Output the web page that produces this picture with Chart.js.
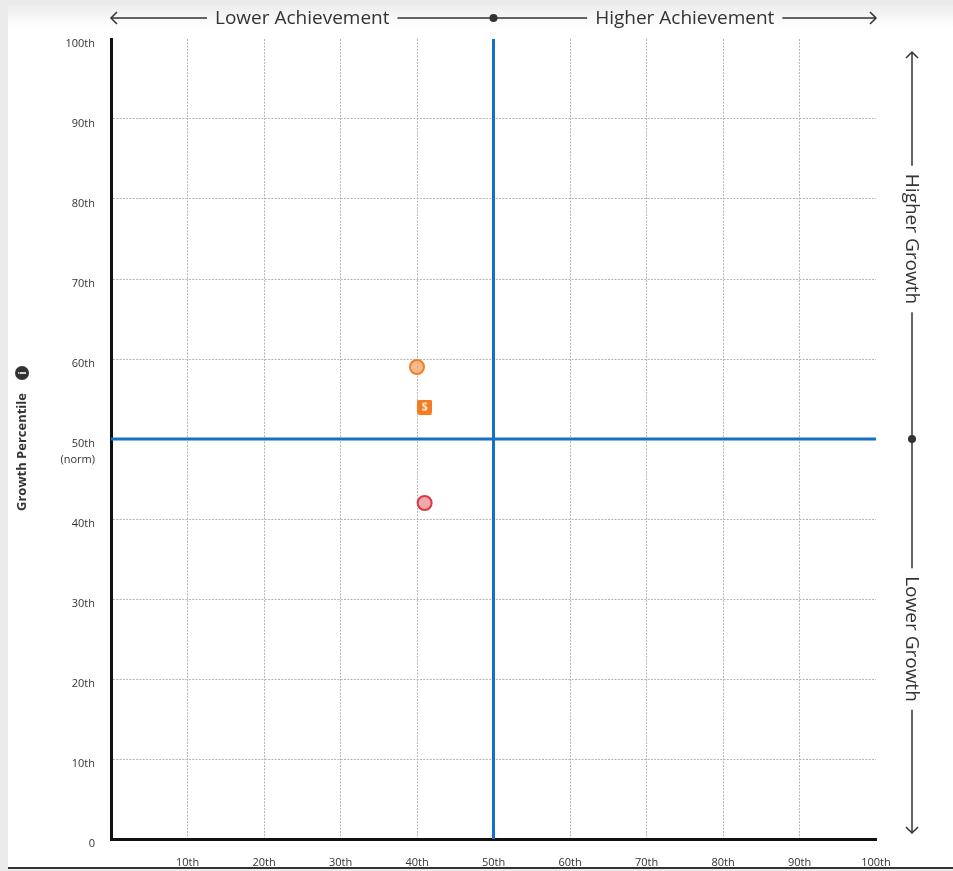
<!DOCTYPE html>
<html>
<head>
<meta charset="utf-8">
<script src="https://cdn.jsdelivr.net/npm/chart.js@4/dist/chart.umd.min.js"></script>
<style>
  html, body { margin: 0; padding: 0; background: #ebebeb; }
  #panel {
    position: absolute; left: 8px; top: 4px; width: 945px; height: 863px;
    background: linear-gradient(to bottom, #ececec 0px, #ffffff 24px);
    border-bottom: 2px solid #333;
  }
  #wrap { position: absolute; left: 0; top: 0; width: 953px; height: 871px; }
</style>
</head>
<body>
<div id="panel"></div>
<div id="wrap"><canvas id="myChart" width="953" height="871"></canvas></div>
<script>
// achievement (x) / growth (y) percentiles
const tickValues = [0, 10, 20, 30, 40, 50, 60, 70, 80, 90, 100]
const tickLabels = ['0', '10th', '20th', '30th', '40th', '50th', '60th', '70th', '80th', '90th', '100th']
const normValue = 50

const circleOrange = [{ x: 40, y: 59 }]
const squareS = [{ x: 41, y: 54 }]
const circleRed = [{ x: 41, y: 42 }]

const FONT = "'Open Sans', 'DejaVu Sans', sans-serif"

// little orange rounded square with an S for the point style
const makeS = () => {
    const c = document.createElement('canvas')
    c.width = 15
    c.height = 15
    const g = c.getContext('2d')
    g.fillStyle = '#f47c20'
    g.beginPath()
    g.roundRect(0, 0, 15, 15, 2)
    g.fill()
    g.fillStyle = '#fff'
    g.font = "bold 11px " + FONT
    g.textAlign = 'center'
    g.textBaseline = 'middle'
    g.fillText('S', 7.5, 8)
    return c
}

const labelFor = (v) => {
    const i = tickValues.indexOf(v)
    return i >= 0 ? tickLabels[i] : ''
}

const gridColor = (c) => {
    if (c.tick && (c.tick.value === 0 || c.tick.value === 100)) return 'rgba(0,0,0,0)'
    return '#b4b4b4'
}

const arrowHead = (ctx, x, y, dir) => {
    // open chevron, dir = 'left' | 'right' | 'up' | 'down'
    const s = 6
    ctx.beginPath()
    if (dir === 'left') { ctx.moveTo(x + s, y - s); ctx.lineTo(x, y); ctx.lineTo(x + s, y + s) }
    if (dir === 'right') { ctx.moveTo(x - s, y - s); ctx.lineTo(x, y); ctx.lineTo(x - s, y + s) }
    if (dir === 'up') { ctx.moveTo(x - s, y + s); ctx.lineTo(x, y); ctx.lineTo(x + s, y + s) }
    if (dir === 'down') { ctx.moveTo(x - s, y - s); ctx.lineTo(x, y); ctx.lineTo(x + s, y - s) }
    ctx.stroke()
}

const quadrantLabels = {
    id: 'quadrantLabels',
    afterDraw(chart) {
        const ctx = chart.ctx
        const xs = chart.scales.x
        const ys = chart.scales.y
        const x0 = xs.getPixelForValue(0)
        const x25 = xs.getPixelForValue(25)
        const x50 = xs.getPixelForValue(normValue)
        const x75 = xs.getPixelForValue(75)
        const x100 = xs.getPixelForValue(100)
        const y0 = ys.getPixelForValue(0)
        const y25 = ys.getPixelForValue(25)
        const y50 = ys.getPixelForValue(normValue)
        const y75 = ys.getPixelForValue(75)
        const y100 = ys.getPixelForValue(100)

        ctx.save()
        ctx.strokeStyle = '#333'
        ctx.fillStyle = '#333'
        ctx.lineWidth = 1.5
        ctx.font = '19px ' + FONT

        // top: achievement arrow
        const ty = 18
        const wl = ctx.measureText('Lower Achievement').width
        const wh = ctx.measureText('Higher Achievement').width
        ctx.beginPath()
        ctx.moveTo(x0, ty); ctx.lineTo(x25 - wl / 2 - 8, ty)
        ctx.moveTo(x25 + wl / 2 + 8, ty); ctx.lineTo(x75 - wh / 2 - 8, ty)
        ctx.moveTo(x75 + wh / 2 + 8, ty); ctx.lineTo(x100, ty)
        ctx.stroke()
        arrowHead(ctx, x0, ty, 'left')
        arrowHead(ctx, x100, ty, 'right')
        ctx.beginPath(); ctx.arc(x50, ty, 4, 0, Math.PI * 2); ctx.fill()
        ctx.textAlign = 'center'
        ctx.textBaseline = 'middle'
        ctx.fillText('Lower Achievement', x25, ty + 1)
        ctx.fillText('Higher Achievement', x75, ty + 1)

        // right: growth arrow
        const rx = 912
        const top = y100 + 13
        const bot = y0 - 6
        const gh = ctx.measureText('Higher Growth').width
        const gl = ctx.measureText('Lower Growth').width
        ctx.beginPath()
        ctx.moveTo(rx, top); ctx.lineTo(rx, y75 - gh / 2 - 8)
        ctx.moveTo(rx, y75 + gh / 2 + 8); ctx.lineTo(rx, y25 - gl / 2 - 8)
        ctx.moveTo(rx, y25 + gl / 2 + 8); ctx.lineTo(rx, bot)
        ctx.stroke()
        arrowHead(ctx, rx, top, 'up')
        arrowHead(ctx, rx, bot, 'down')
        ctx.beginPath(); ctx.arc(rx, y50, 4, 0, Math.PI * 2); ctx.fill()
        ctx.save()
        ctx.translate(rx, y75)
        ctx.rotate(Math.PI / 2)
        ctx.fillText('Higher Growth', 0, 1)
        ctx.restore()
        ctx.save()
        ctx.translate(rx, y25)
        ctx.rotate(Math.PI / 2)
        ctx.fillText('Lower Growth', 0, 1)
        ctx.restore()

        // left: axis title with info icon
        ctx.save()
        ctx.translate(22, y50 + 13)
        ctx.rotate(-Math.PI / 2)
        ctx.font = 'bold 13px ' + FONT
        ctx.fillText('Growth Percentile', 0, 0)
        ctx.restore()
        ctx.beginPath(); ctx.arc(22, y50 - 66, 7, 0, Math.PI * 2); ctx.fill()
        ctx.fillStyle = '#fff'
        ctx.font = 'bold 10px ' + FONT
        ctx.save()
        ctx.translate(22, y50 - 66)
        ctx.rotate(-Math.PI / 2)
        ctx.fillText('i', 0, 1)
        ctx.restore()

        // second line under the 50th tick label
        ctx.fillStyle = '#333'
        ctx.font = '11px ' + FONT
        ctx.textAlign = 'right'
        ctx.fillText('(norm)', chart.chartArea.left - 16, y50 + 21)
        ctx.restore()
    }
}

const ctx = document.getElementById('myChart')
const myChart = new Chart(ctx, {
    type: 'scatter',
    data: {
        datasets: [
            {
                label: 'norm x',
                data: [{ x: normValue, y: 0 }, { x: normValue, y: 100 }],
                showLine: true,
                borderColor: '#1670c6',
                borderWidth: 3,
                pointRadius: 0
            },
            {
                label: 'norm y',
                data: [{ x: 0, y: normValue }, { x: 100, y: normValue }],
                showLine: true,
                borderColor: '#1670c6',
                borderWidth: 3,
                pointRadius: 0
            },
            {
                label: 'orange',
                data: circleOrange,
                pointStyle: 'circle',
                pointRadius: 7,
                borderWidth: 2,
                borderColor: '#f27d22',
                backgroundColor: 'rgba(245, 150, 85, 0.65)'
            },
            {
                label: 'S',
                data: squareS,
                pointStyle: makeS(),
                pointRadius: 8
            },
            {
                label: 'red',
                data: circleRed,
                pointStyle: 'circle',
                pointRadius: 7,
                borderWidth: 2,
                borderColor: '#d93a42',
                backgroundColor: 'rgba(238, 145, 150, 0.8)'
            }
        ]
    },
    options: {
        responsive: false,
        animation: false,
        clip: false,
        layout: { padding: { top: 39, right: 77, left: 0, bottom: 0 } },
        plugins: {
            legend: { display: false },
            tooltip: { enabled: false }
        },
        scales: {
            x: {
                type: 'linear',
                min: 0,
                max: 100,
                afterFit: (s) => { s.height = 32 },
                afterBuildTicks: (s) => { s.ticks = tickValues.map(v => ({ value: v })) },
                border: { display: true, color: '#111', width: 3, dash: [2, 1.3] },
                grid: { color: gridColor, lineWidth: 1, drawTicks: false },
                ticks: {
                    autoSkip: false,
                    maxRotation: 0,
                    padding: 17,
                    color: '#333',
                    font: { family: FONT, size: 11 },
                    callback: (v) => v === 0 ? '' : labelFor(v)
                }
            },
            y: {
                type: 'linear',
                min: 0,
                max: 100,
                afterFit: (s) => { s.width = 111 },
                afterBuildTicks: (s) => { s.ticks = tickValues.map(v => ({ value: v })) },
                border: { display: true, color: '#111', width: 3, dash: [2, 1.3] },
                grid: { color: gridColor, lineWidth: 1, drawTicks: false },
                ticks: {
                    autoSkip: false,
                    padding: 16,
                    labelOffset: 5,
                    color: '#333',
                    font: { family: FONT, size: 11 },
                    callback: (v) => labelFor(v)
                }
            }
        }
    },
    plugins: [quadrantLabels]
})
</script>
</body>
</html>
